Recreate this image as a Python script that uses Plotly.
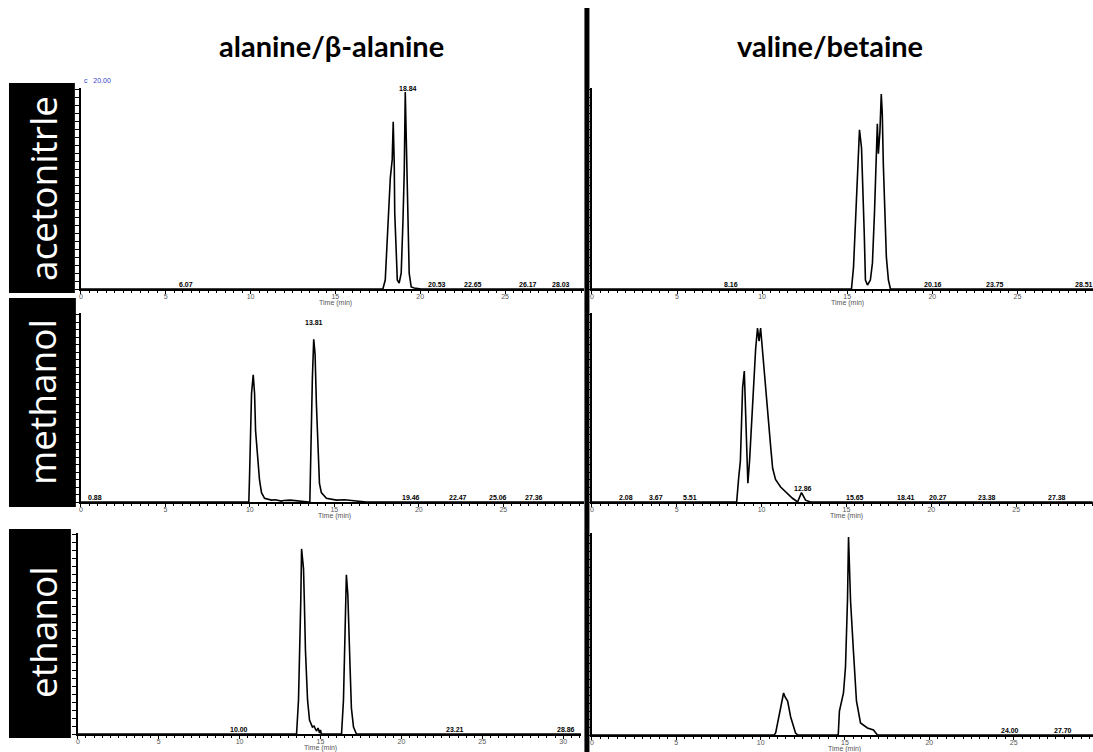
import plotly.graph_objects as go

W, H = 1093, 752

# ---------------- data (time in min, intensity in % of full scale) ----------------
col_titles = ["alanine/β-alanine", "valine/betaine"]
row_titles = ["acetonitrle", "methanol", "ethanol"]
x_title = "Time (min)"

# acetonitrile / alanine
ta_t = [0, 17.8, 17.94, 18.06, 18.14, 18.24, 18.35, 18.41, 18.47, 18.5, 18.6, 18.65, 18.76, 18.88,
        18.98, 19.06, 19.12, 19.2, 19.27, 19.35, 19.47, 19.65, 20.06, 29.7]
ta_y = [0, 0, 4.5, 24, 41, 56, 65, 84, 63, 38, 16, 4.5, 3, 8, 33, 59, 99, 71, 33, 8, 1, 0.5, 0, 0]
ta_lab_t = [6.2, 21.0, 23.1, 26.35, 28.3]
ta_lab_y = [0, 0, 0, 0, 0]
ta_lab = ["6.07", "20.53", "22.65", "26.17", "28.03"]

# acetonitrile / valine
tv_t = [0, 15.25, 15.37, 15.48, 15.6, 15.72, 15.84, 15.9, 16.0, 16.07, 16.19, 16.36, 16.48, 16.6,
        16.72, 16.77, 16.83, 16.92, 17.0, 17.06, 17.12, 17.2, 17.3, 17.42, 17.54, 29.5]
tv_y = [0, 0, 11, 34, 54, 80, 71, 49, 28, 4.5, 2, 4.5, 13, 38, 71, 83, 68, 79, 98, 88, 63, 38, 16,
        4.5, 0, 0]
tv_lab_t = [8.15, 20.06, 23.7, 28.9]
tv_lab_y = [0, 0, 0, 0]
tv_lab = ["8.16", "20.16", "23.75", "28.51"]

# methanol / alanine
ma_t = [0, 9.94, 9.98, 10.04, 10.1, 10.2, 10.28, 10.34, 10.46, 10.57, 10.69, 10.87, 11.28, 11.5,
        11.87, 12.0, 12.4, 12.8, 13.05, 13.47, 13.55, 13.59, 13.64, 13.7, 13.78, 13.86, 13.94, 14.03,
        14.12, 14.23, 14.53, 15.12, 15.6, 16.3, 16.9, 29.8]
ma_y = [0, 0, 13, 38, 58, 68, 58, 38, 22, 12, 5, 2, 1, 1.2, 0.5, 0.8, 1.0, 0.5, 0.5, 0, 0, 22, 43,
        66, 87, 79, 52, 29, 10, 5, 2, 1, 1.2, 0.5, 0, 0]
ma_lab_t = [0.83, 19.55, 22.3, 24.7, 26.8]
ma_lab_y = [0, 0, 0, 0, 0]
ma_lab = ["0.88", "19.46", "22.47", "25.06", "27.36"]

# methanol / valine
mv_t = [0, 8.53, 8.65, 8.75, 8.82, 8.88, 8.98, 9.06, 9.12, 9.19, 9.29, 9.41, 9.53, 9.65, 9.76,
        9.85, 9.94, 10.06, 10.18, 10.29, 10.41, 10.53, 10.65, 10.82, 11.12, 11.47, 11.82, 12.12,
        12.35, 12.59, 12.88, 29.5]
mv_y = [0, 0, 13, 22, 43, 61, 70, 50, 26, 10, 22, 43, 68, 82, 93, 86, 93, 80, 65, 52, 40, 30, 18,
        12, 8, 5, 2, 0, 5, 1, 0, 0]
mv_lab_t = [2.0, 3.8, 5.8, 12.45, 15.5, 18.5, 20.4, 23.3, 27.4]
mv_lab_y = [0, 0, 0, 5, 0, 0, 0, 0, 0]
mv_lab = ["2.08", "3.67", "5.51", "12.86", "15.65", "18.41", "20.27", "23.38", "27.38"]

# ethanol / alanine
ea_t = [0, 13.52, 13.64, 13.72, 13.78, 13.83, 13.95, 14.0, 14.07, 14.2, 14.32, 14.5, 14.6, 14.75,
        14.85, 14.94, 15.0, 15.05, 16.3, 16.42, 16.5, 16.56, 16.6, 16.69, 16.75, 16.83, 16.91, 17.04,
        17.22, 31.1]
ea_y = [0, 0, 17, 42, 67, 93, 83, 67, 42, 17, 7, 3.5, 4, 1.5, 3, 0.5, 2, 0, 0, 17, 50, 75, 80, 70,
        58, 33, 13, 3.5, 0, 0]
ea_lab_t = [9.94, 23.3, 30.2]
ea_lab_y = [0, 0, 0]
ea_lab = ["10.00", "23.21", "28.86"]

# ethanol / valine
ev_t = [0, 10.8, 10.89, 11.07, 11.25, 11.36, 11.45, 11.6, 11.78, 12.07, 12.2, 14.6, 14.67, 14.91,
        15.03, 15.15, 15.21, 15.33, 15.5, 15.68, 15.92, 16.33, 16.69, 16.92, 29.7]
ev_y = [0, 0, 1, 9, 17, 21, 19, 17, 9, 1, 0, 0, 12, 21, 34, 68, 99, 67, 42, 17, 6, 3.5, 2.5, 0, 0]
ev_lab_t = [24.8, 27.9]
ev_lab_y = [0, 0]
ev_lab = ["24.00", "27.70"]

# apex labels drawn above the top of a trace
top_lab = {0: ([19.3], [101], ["18.84"]), 2: ([13.8], [96], ["13.81"])}

# ---------------- layout helpers ----------------
def px(x):
    return x / W


def py(y):
    return 1 - y / H


panels = [
    dict(t=ta_t, y=ta_y, lt=ta_lab_t, ly=ta_lab_y, lab=ta_lab, xd=(79, 583), yd=(289, 88), xmax=29.65),
    dict(t=tv_t, y=tv_y, lt=tv_lab_t, ly=tv_lab_y, lab=tv_lab, xd=(591, 1093), yd=(289, 88), xmax=29.44),
    dict(t=ma_t, y=ma_y, lt=ma_lab_t, ly=ma_lab_y, lab=ma_lab, xd=(79, 583), yd=(502, 313), xmax=29.77),
    dict(t=mv_t, y=mv_y, lt=mv_lab_t, ly=mv_lab_y, lab=mv_lab, xd=(591, 1093), yd=(502, 313), xmax=29.53),
    dict(t=ea_t, y=ea_y, lt=ea_lab_t, ly=ea_lab_y, lab=ea_lab, xd=(76, 580), yd=(734, 533), xmax=31.1),
    dict(t=ev_t, y=ev_y, lt=ev_lab_t, ly=ev_lab_y, lab=ev_lab, xd=(591, 1093), yd=(735, 533), xmax=29.7),
]

fig = go.Figure()
layout = dict(
    width=W, height=H, margin=dict(l=0, r=0, t=0, b=0),
    paper_bgcolor="white", plot_bgcolor="white", showlegend=False,
)
annotations = []
shapes = []
tickfont = dict(family="Liberation Sans", size=7, color="#555")
labfont = dict(family="Liberation Sans", size=7, color="black")

for i, p in enumerate(panels):
    n = "" if i == 0 else str(i + 1)
    xr, yr = "x" + n, "y" + n
    fig.add_trace(go.Scatter(x=p["t"], y=p["y"], mode="lines", xaxis=xr, yaxis=yr,
                             line=dict(color="black", width=1.6), hoverinfo="skip"))
    layout["xaxis" + n] = dict(
        domain=[px(p["xd"][0]), px(p["xd"][1])], range=[0, p["xmax"]], anchor=yr,
        showline=True, linecolor="black", linewidth=1.5, ticks="outside", ticklen=3,
        tickcolor="black", tickwidth=1, tick0=0, dtick=5, tickfont=tickfont,
        ticklabelstandoff=-3,
        minor=dict(dtick=0.5, ticks="outside", ticklen=2, tickcolor="black"),
        showgrid=False, zeroline=False,
    )
    layout["yaxis" + n] = dict(
        domain=[py(p["yd"][0]), py(p["yd"][1])], range=[0, 101], anchor=xr,
        showline=True, linecolor="black", linewidth=1.5, ticks="outside", ticklen=4,
        tickcolor="black", dtick=4, showticklabels=False, showgrid=False, zeroline=False,
    )
    # axis title, centred under 15 min
    annotations.append(dict(x=15, y=py(p["yd"][0] + 14), xref=xr, yref="paper", text=x_title,
                            showarrow=False, xanchor="center", yanchor="middle",
                            font=dict(family="Liberation Sans", size=7, color="#555")))
    for t, yy, s in zip(p["lt"], p["ly"], p["lab"]):
        annotations.append(dict(x=t, y=yy, xref=xr, yref=yr, text="<b>" + s + "</b>",
                                showarrow=False, xanchor="center", yanchor="bottom", yshift=-1,
                                font=labfont))
    if i in top_lab:
        for t, yy, s in zip(*top_lab[i]):
            annotations.append(dict(x=t, y=yy, xref=xr, yref=yr, text="<b>" + s + "</b>",
                                    showarrow=False, xanchor="center", yanchor="middle",
                                    font=labfont))

# column titles
for txt, cx in zip(col_titles, [330, 830]):
    annotations.append(dict(x=px(cx), y=py(45), xref="paper", yref="paper", text="<b>" + txt + "</b>",
                            showarrow=False, xanchor="center", yanchor="middle",
                            font=dict(family="Lato", size=29, color="black")))

# row labels (black boxes with white vertical text)
boxes = [(7, 83, 73, 293), (7, 298, 74, 507), (7, 529, 69, 738)]
centers = [188, 402, 632]
for txt, b, cy in zip(row_titles, boxes, centers):
    shapes.append(dict(type="rect", xref="paper", yref="paper", x0=px(b[0]), x1=px(b[2]),
                       y0=py(b[3]), y1=py(b[1]), fillcolor="black", line=dict(width=0),
                       layer="below"))
    annotations.append(dict(x=px(40), y=py(cy), xref="paper", yref="paper", text=txt, textangle=-90,
                            showarrow=False, xanchor="center", yanchor="middle",
                            font=dict(family="Open Sans", size=37, color="white")))

# small blue scale marker
annotations.append(dict(x=px(96), y=py(80), xref="paper", yref="paper", text="c   20.00",
                        showarrow=False, xanchor="center", yanchor="middle",
                        font=dict(family="Liberation Sans", size=7, color="#3344cc")))

# thick divider
shapes.append(dict(type="line", xref="paper", yref="paper", x0=px(586), x1=px(586), y0=py(752),
                   y1=py(8), line=dict(color="black", width=5)))

layout["annotations"] = annotations
layout["shapes"] = shapes
fig.update_layout(**layout)
fig.write_html("out.html")
